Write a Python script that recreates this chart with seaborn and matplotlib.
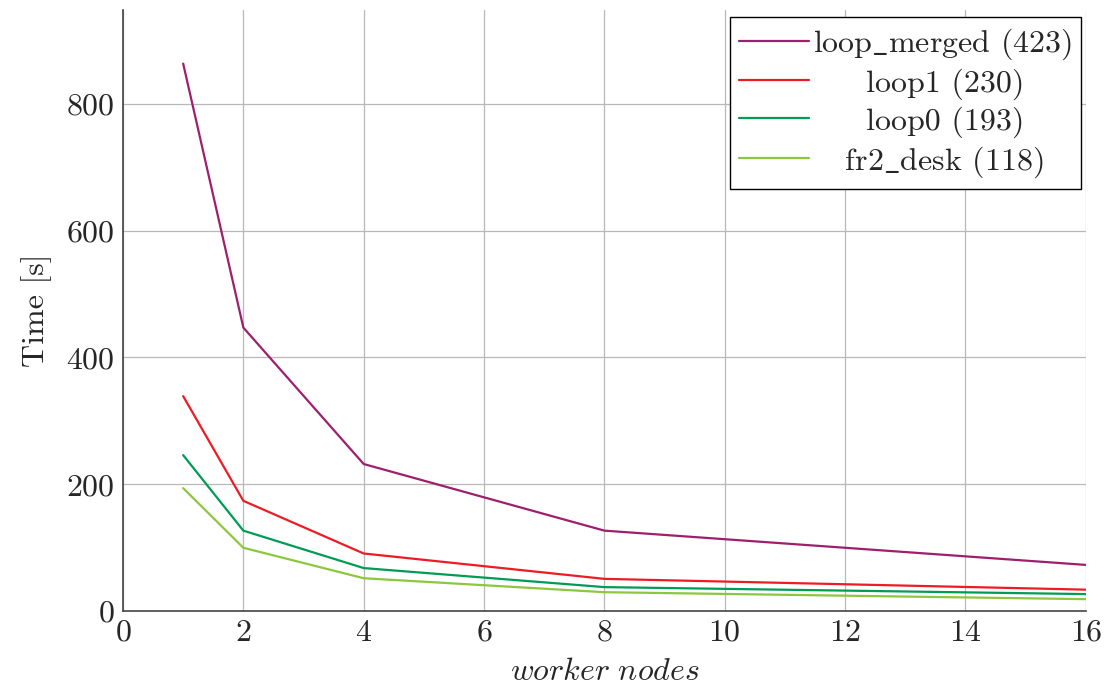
import pandas as pd
import matplotlib.pyplot as plt
import seaborn as sns

# values
nodes = [1, 2, 4, 8, 16]
loop_merged = [863, 447, 232, 127, 73]
loop1 = [339, 174, 91, 51, 34]
loop0 = [246, 127, 68, 38, 27]
fr2_desk = [194, 100, 52, 30, 19]
labels = ["loop_merged (423)", "loop1 (230)", "loop0 (193)", "fr2_desk (118)"]
colors = ["#9E1F6E", "#ED1C24", "#009B55", "#8DC63F"]

df = pd.concat([
    pd.DataFrame({"nodes": nodes, "time": vals, "run": lab})
    for vals, lab in zip([loop_merged, loop1, loop0, fr2_desk], labels)
])

sns.set_style("white")
plt.rcParams["font.family"] = ["cmr10", "DejaVu Serif"]
plt.rcParams["mathtext.fontset"] = "cm"
plt.rcParams["axes.formatter.use_mathtext"] = True
fs = 23

fig = plt.figure(figsize=(11.08, 6.93), dpi=100)
ax = fig.add_axes([0.111, 0.118, 0.869, 0.868])

sns.lineplot(data=df, x="nodes", y="time", hue="run", hue_order=labels,
             palette=colors, linewidth=1.6, ax=ax)

ax.set_xlim(0, 16)
ax.set_ylim(0, 948)
ax.set_xticks(range(0, 17, 2))
ax.set_yticks(range(0, 801, 200))
ax.grid(True, color="#b8b8b8", linewidth=0.9)
ax.set_axisbelow(True)
for s in ["top", "right"]:
    ax.spines[s].set_visible(False)
for s in ["left", "bottom"]:
    ax.spines[s].set_color("#444444")
    ax.spines[s].set_linewidth(1.2)
ax.tick_params(direction="in", length=5, width=1, color="#666666", labelsize=fs, pad=6)

ax.set_xlabel(r"$\it{worker\ nodes}$", fontsize=fs, labelpad=8)
ax.set_ylabel("Time [s]", fontsize=fs, labelpad=10)

handles, _ = ax.get_legend_handles_labels()
# cmr10 has no underscore glyph -> use mathtext, and pad shorter labels to look centered
shown = [r"loop$\_$merged (423)", "     loop1 (230)", "     loop0 (193)", r"   fr2$\_$desk (118)"]
leg = ax.legend(handles, shown, loc="upper right", fontsize=fs, frameon=True,
                fancybox=False, edgecolor="black", framealpha=1,
                handlelength=2.2, handletextpad=0.1, labelspacing=0.2,
                borderpad=0.3, borderaxespad=0, bbox_to_anchor=(0.995, 0.988))
leg.get_frame().set_linewidth(1.0)

fig.savefig("out.png", dpi=100)
